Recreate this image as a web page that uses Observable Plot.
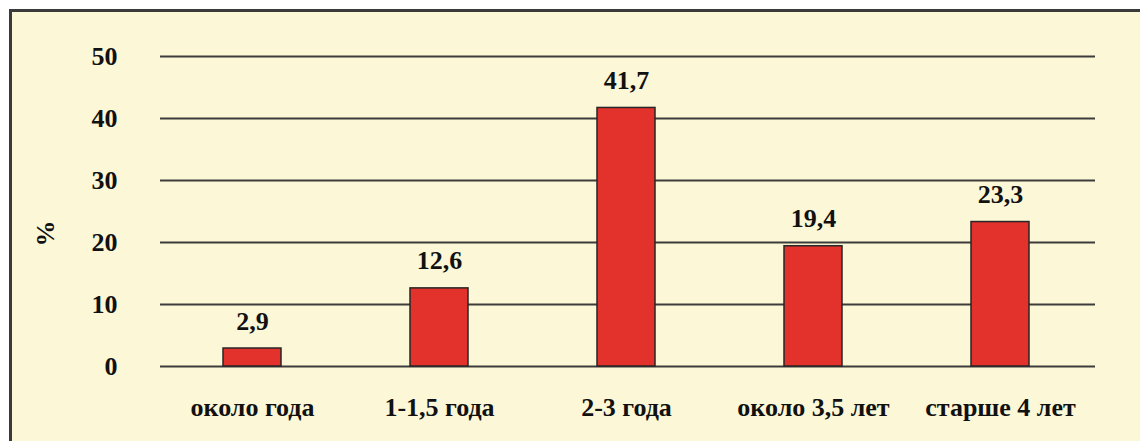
<!DOCTYPE html>
<html>
<head>
<meta charset="utf-8">
<script src="https://cdn.jsdelivr.net/npm/d3@7"></script>
<script src="https://cdn.jsdelivr.net/npm/@observablehq/plot@0.6"></script>
<style>
  html, body { margin: 0; padding: 0; background: #ffffff; overflow: hidden; }
  #frame {
    position: absolute; left: 9px; top: 9px; width: 1140px; height: 450px;
    border-left: 3px solid #3a3a3a; border-top: 3px solid #3a3a3a;
    background: #fcf7d6;
  }
  #chart { position: absolute; left: 0; top: 0; }
  #chart svg, #chart svg text { font-family: "Liberation Serif", "Times New Roman", serif !important; }
</style>
</head>
<body>
<div id="frame"></div>
<div id="chart"></div>
<script>
const categories = ["около года", "1-1,5 года", "2-3 года", "около 3,5 лет", "старше 4 лет"];
const values = [2.9, 12.6, 41.7, 19.4, 23.3];
const valueLabels = ["2,9", "12,6", "41,7", "19,4", "23,3"];
const yTicks = [0, 10, 20, 30, 40, 50];
const yAxisLabel = "%";

const data = categories.map((c, i) => ({category: c, value: values[i], label: valueLabels[i]}));
const serif = "Liberation Serif";

const chart = Plot.plot({
  width: 1140,
  height: 441,
  marginLeft: 160,
  marginRight: 45,
  marginTop: 56,
  marginBottom: 75,
  style: {fontFamily: serif, background: "transparent", color: "#111"},
  x: {domain: categories, paddingInner: 0.69, paddingOuter: 0.345, align: 0.485, label: null},
  y: {domain: [0, 50], label: null},
  marks: [
    Plot.ruleY(yTicks, {stroke: "#3c3c3c", strokeWidth: 2}),
    Plot.barY(data, {x: "category", y: "value", fill: "#e3312b", stroke: "#262626", strokeWidth: 1.5}),
    Plot.text(data, {x: "category", y: "value", text: "label", lineAnchor: "bottom", dy: -19, fontSize: 26, fontWeight: "bold", fontFamily: serif, fill: "#111"}),
    Plot.axisY({ticks: yTicks, tickSize: 0, tickPadding: 43, fontSize: 26, fontWeight: "bold", fontFamily: serif, label: null, tickFormat: d => String(d)}),
    Plot.axisX({tickSize: 0, tickPadding: 31, fontSize: 26, fontWeight: "bold", fontFamily: serif, label: null}),
    Plot.text([yAxisLabel], {frameAnchor: "left", dx: -115, dy: 35, rotate: -90, fontSize: 26, fontWeight: "bold", fontFamily: serif, fill: "#111"})
  ]
});
document.getElementById("chart").appendChild(chart);
</script>
</body>
</html>
